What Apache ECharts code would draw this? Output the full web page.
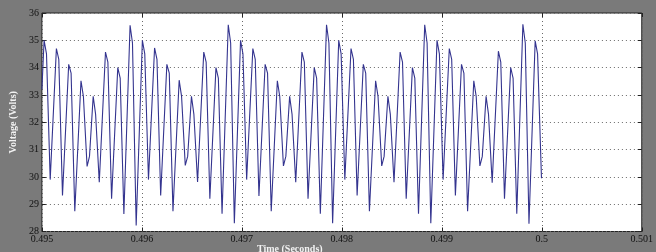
<!DOCTYPE html>
<html>
<head>
<meta charset="utf-8">
<script src="https://cdn.jsdelivr.net/npm/echarts@6/dist/echarts.min.js"></script>
<style>html,body{margin:0;padding:0;background:#7a7a7a;}#c{width:656px;height:252px;}</style>
</head>
<body>
<div id="c"></div>
<script>
// Time (s) and voltage (V) samples
const time = [
0.495000,
0.495022,0.495046,0.495083,
0.495145,0.495169,0.495206,
0.495268,0.495292,0.495329,
0.495391,0.495415,0.495452,0.495476,
0.495513,0.495537,0.495574,
0.495636,0.495660,0.495697,
0.495759,0.495783,0.495820,
0.495882,0.495906,0.495943,
0.496005,0.496029,0.496066,
0.496127,0.496151,0.496188,
0.496250,0.496274,0.496311,
0.496373,0.496397,0.496434,0.496458,
0.496496,0.496520,0.496557,
0.496619,0.496643,0.496680,
0.496741,0.496765,0.496802,
0.496864,0.496888,0.496925,
0.496987,0.497011,0.497048,
0.497110,0.497134,0.497171,
0.497233,0.497257,0.497294,
0.497355,0.497379,0.497416,0.497440,
0.497478,0.497502,0.497539,
0.497601,0.497625,0.497662,
0.497724,0.497748,0.497785,
0.497847,0.497871,0.497908,
0.497969,0.497993,0.498030,
0.498092,0.498116,0.498153,
0.498215,0.498239,0.498276,
0.498338,0.498362,0.498399,0.498423,
0.498461,0.498485,0.498522,
0.498583,0.498607,0.498644,
0.498706,0.498730,0.498767,
0.498829,0.498853,0.498890,
0.498952,0.498976,0.499013,
0.499075,0.499099,0.499136,
0.499197,0.499221,0.499258,
0.499320,0.499344,0.499381,0.499405,
0.499443,0.499467,0.499504,
0.499566,0.499590,0.499627,
0.499689,0.499713,0.499750,
0.499811,0.499835,0.499872,
0.499934,0.499958,0.499997
];
const voltage = [
33.2,
35.0,34.5,29.9,
34.7,34.3,29.32,
34.12,33.8,28.74,
33.52,32.95,30.38,30.75,
32.95,32.3,29.8,
34.57,34.2,29.2,
34.0,33.62,28.64,
35.55,34.9,28.22,
35.0,34.5,29.9,
34.72,34.3,29.32,
34.12,33.8,28.74,
33.54,32.95,30.42,30.75,
32.95,32.3,29.81,
34.57,34.2,29.2,
34.0,33.62,28.65,
35.57,34.9,28.3,
35.0,34.5,29.9,
34.7,34.3,29.3,
34.12,33.8,28.74,
33.52,32.95,30.4,30.75,
32.95,32.3,29.8,
34.57,34.2,29.2,
34.0,33.62,28.65,
35.57,34.9,28.3,
35.0,34.5,29.9,
34.7,34.3,29.32,
34.12,33.8,28.74,
33.52,32.95,30.4,30.75,
32.95,32.3,29.8,
34.57,34.2,29.2,
34.0,33.62,28.65,
35.57,34.9,28.3,
35.0,34.5,29.9,
34.7,34.3,29.32,
34.12,33.8,28.74,
33.52,32.95,30.4,30.75,
32.95,32.3,29.79,
34.6,34.2,29.2,
34.0,33.62,28.65,
35.59,34.9,28.28,
34.98,34.5,29.95
];
const xTicks = {min: 0.495, max: 0.501, step: 0.001};
const yTicks = {min: 28, max: 36, step: 1};
const xTitle = 'Time (Seconds)';
const yTitle = 'Voltage (Volts)';

const data = time.map((t, i) => [t, voltage[i]]);
const font = '"Liberation Serif", "DejaVu Serif", serif';
const chart = echarts.init(document.getElementById('c'), null, {renderer: 'canvas'});
const tickStyle = {show: true, inside: true, length: 4, lineStyle: {color: '#222', width: 1}};
const grid = {color: '#6a6a6a', width: 1, type: [1, 3]};
chart.setOption({
  animation: false,
  backgroundColor: '#7a7a7a',
  title: {
    text: xTitle, left: 252, top: 239,
    textStyle: {color: '#f2f2f2', fontFamily: font, fontSize: 10, fontWeight: 'bold'}
  },
  grid: {left: 18.5, right: 12.5, top: 13, bottom: 20.5, show: true,
         backgroundColor: '#ffffff', borderColor: '#222', borderWidth: 1},
  xAxis: [{
    type: 'value', min: xTicks.min, max: xTicks.max, interval: xTicks.step,
    axisLine: {show: false}, axisTick: tickStyle,
    axisLabel: {color: '#111', fontFamily: font, fontSize: 10, margin: 3,
      formatter: v => String(parseFloat(v.toFixed(3)))},
    splitLine: {show: true, lineStyle: grid}
  }, {
    type: 'value', position: 'top', min: xTicks.min, max: xTicks.max, interval: xTicks.step,
    axisLine: {show: false}, axisTick: tickStyle, axisLabel: {show: false}, splitLine: {show: false}
  }],
  yAxis: [{
    type: 'value', min: yTicks.min, max: yTicks.max, interval: yTicks.step,
    name: yTitle, nameLocation: 'middle', nameGap: 13, nameRotate: 90,
    nameTextStyle: {color: '#f2f2f2', fontFamily: font, fontSize: 10, fontWeight: 'bold'},
    axisLine: {show: false}, axisTick: tickStyle,
    axisLabel: {color: '#111', fontFamily: font, fontSize: 10, margin: 3},
    splitLine: {show: true, lineStyle: grid}
  }, {
    type: 'value', position: 'right', min: yTicks.min, max: yTicks.max, interval: yTicks.step,
    axisLine: {show: false}, axisTick: tickStyle, axisLabel: {show: false}, splitLine: {show: false}
  }],
  series: [{
    type: 'line', data: data, showSymbol: false, xAxisIndex: 0, yAxisIndex: 0,
    lineStyle: {color: '#34348f', width: 1.1}
  }]
});
</script>
</body>
</html>
